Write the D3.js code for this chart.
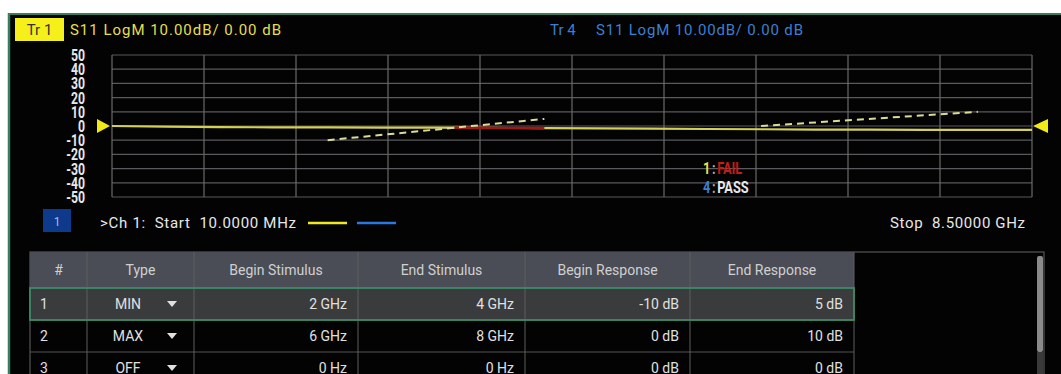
<!DOCTYPE html>
<html><head><meta charset="utf-8">
<script src="https://cdn.jsdelivr.net/npm/d3@7"></script>
<style>
html,body{margin:0;padding:0;background:#fff;}
svg{display:block;}
text{font-family:Roboto,"Noto Sans",sans-serif;}
</style></head>
<body><svg id="c" width="1061" height="374"></svg>
<script>
// ---- data ----
const traceFreqGHz = [0.01, 0.5, 1, 1.5, 2, 2.5, 3, 3.5, 4, 4.5, 5, 5.5, 6, 6.5, 7, 7.5, 8, 8.5];
const traceDb      = [0, -0.5, -0.8, -0.9, -1.0, -1.1, -1.2, -1.35, -1.5, -1.7, -1.9, -2.1, -2.3, -2.5, -2.6, -2.7, -2.7, -2.7];
const yTickLabels = [50, 40, 30, 20, 10, 0, -10, -20, -30, -40, -50];
const startGHz = 0.01, stopGHz = 8.5;
const limitNum = [1, 2, 3];
const limitType = ["MIN", "MAX", "OFF"];
const limitBeginStimGHz = [2, 6, 0];
const limitEndStimGHz = [4, 8, 0];
const limitBeginDb = [-10, 0, 0];
const limitEndDb = [5, 10, 0];
const tableHeaders = ["#", "Type", "Begin Stimulus", "End Stimulus", "Begin Response", "End Response"];

const svg = d3.select("#c");
// panel
svg.append("rect").attr("x",8).attr("y",13).attr("width",1061).attr("height",374).attr("fill","#030303");
svg.append("line").attr("x1",8).attr("x2",1061).attr("y1",14).attr("y2",14).attr("stroke","#3a7d5e").attr("stroke-width",2);
svg.append("line").attr("x1",9).attr("x2",9).attr("y1",13).attr("y2",374).attr("stroke","#3a7d5e").attr("stroke-width",2.5);

const x = d3.scaleLinear().domain([startGHz, stopGHz]).range([112, 1032]);
const y = d3.scaleLinear().domain([-50, 50]).range([197, 55]);

// grid
const g = svg.append("g");
const xDiv = d3.range(11).map(i => startGHz + i*(stopGHz-startGHz)/10);
g.selectAll(".hg").data(yTickLabels).join("line")
  .attr("x1",x(startGHz)).attr("x2",x(stopGHz)).attr("y1",d=>y(d)).attr("y2",d=>y(d))
  .attr("stroke","#5a5a5e").attr("stroke-width",1.2);
g.selectAll(".vg").data(xDiv).join("line")
  .attr("x1",d=>x(d)).attr("x2",d=>x(d)).attr("y1",y(50)).attr("y2",y(-50))
  .attr("stroke","#6a6a6a").attr("stroke-width",1.2);

// y labels
svg.selectAll(".yl").data(yTickLabels).join("text")
  .attr("transform",d=>`translate(85,${y(d)+6}) scale(0.72,1)`)
  .attr("text-anchor","end").attr("font-size",17).attr("font-weight","bold")
  .attr("fill","#e8e8e8").text(d=>d);

// header
svg.append("rect").attr("x",15).attr("y",18).attr("width",49).attr("height",23).attr("fill","#f5ef1a");
svg.append("text").attr("x",39.5).attr("y",35).attr("text-anchor","middle").attr("font-size",15).attr("fill","#333").text("Tr 1");
svg.append("text").attr("x",70).attr("y",35).attr("font-size",15).attr("fill","#e6df4a")
  .attr("textLength",211).attr("lengthAdjust","spacing").text("S11 LogM 10.00dB/ 0.00 dB");
svg.append("text").attr("x",550).attr("y",35).attr("font-size",15).attr("fill","#3c7fd0").attr("xml:space","preserve").text("Tr 4");
svg.append("text").attr("x",596).attr("y",35).attr("font-size",15).attr("fill","#3c7fd0")
  .attr("textLength",207).attr("lengthAdjust","spacing").text("S11 LogM 10.00dB/ 0.00 dB");

// trace
const line = d3.line().x(d=>x(d[0])).y(d=>y(d[1]));
const tracePts = traceFreqGHz.map((f,i)=>[f, traceDb[i]]);
svg.append("path").attr("d",line(tracePts)).attr("fill","none").attr("stroke","#d4d055").attr("stroke-width",2.2);

// fail segment (limit 1: MIN)
const interpTrace = f => {
  const i = d3.bisectRight(traceFreqGHz, f) - 1;
  const j = Math.min(i+1, traceFreqGHz.length-1);
  if (i===j) return traceDb[i];
  const t = (f-traceFreqGHz[i])/(traceFreqGHz[j]-traceFreqGHz[i]);
  return traceDb[i] + t*(traceDb[j]-traceDb[i]);
};
const lim0 = f => limitBeginDb[0] + (f-limitBeginStimGHz[0])/(limitEndStimGHz[0]-limitBeginStimGHz[0])*(limitEndDb[0]-limitBeginDb[0]);
const failPts = d3.range(limitBeginStimGHz[0], limitEndStimGHz[0]+0.0001, 0.01)
  .filter(f => interpTrace(f) < lim0(f)).map(f => [f, interpTrace(f)]);
if (failPts.length) svg.append("path").attr("d",line(failPts)).attr("fill","none").attr("stroke","#9a1a1a").attr("stroke-width",2.6);

// limit lines
[0,1].forEach(k=>{
  svg.append("path").attr("d",line([[limitBeginStimGHz[k],limitBeginDb[k]],[limitEndStimGHz[k],limitEndDb[k]]]))
    .attr("fill","none").attr("stroke","#dcdc9a").attr("stroke-width",2).attr("stroke-dasharray","7,5");
});

// reference markers
const y0 = y(0);
svg.append("path").attr("d",`M${x(startGHz)-15},${y0-7}L${x(startGHz)-15},${y0+7}L${x(startGHz)-2},${y0}Z`).attr("fill","#f2ea16");
svg.append("path").attr("d",`M${x(stopGHz)+16},${y0-7}L${x(stopGHz)+16},${y0+7}L${x(stopGHz)+1},${y0}Z`).attr("fill","#f2ea16");

// pass/fail
const pf = svg.append("g").attr("font-weight","bold").attr("font-size",16);
const t1 = pf.append("text").attr("transform","translate(703,174) scale(0.8,1)");
t1.append("tspan").attr("fill","#e6df4a").text("1");
t1.append("tspan").attr("fill","#aaa").attr("dx",2).text(":");
t1.append("tspan").attr("fill","#c21c1c").attr("dx",2).text("FAIL");
const t2 = pf.append("text").attr("transform","translate(703,193) scale(0.8,1)");
t2.append("tspan").attr("fill","#3c7fd0").text("4");
t2.append("tspan").attr("fill","#aaa").attr("dx",2).text(":");
t2.append("tspan").attr("fill","#e8e8e8").attr("dx",2).text("PASS");

// channel line
svg.append("rect").attr("x",43).attr("y",209).attr("width",28).attr("height",23).attr("fill","#0d3a8a");
svg.append("text").attr("x",57).attr("y",226).attr("text-anchor","middle").attr("font-size",12).attr("fill","#aabbee").text("1");
svg.append("text").attr("x",100).attr("y",228).attr("font-size",15).attr("fill","#e8e8e8").attr("xml:space","preserve")
  .attr("textLength",196).attr("lengthAdjust","spacing").text(">Ch 1:  Start  10.0000 MHz");
svg.append("line").attr("x1",308).attr("x2",347).attr("y1",223).attr("y2",223).attr("stroke","#f0e820").attr("stroke-width",2.5);
svg.append("line").attr("x1",357).attr("x2",396).attr("y1",223).attr("y2",223).attr("stroke","#2a78e0").attr("stroke-width",2.5);
svg.append("text").attr("x",890).attr("y",228).attr("font-size",15).attr("fill","#e8e8e8").attr("xml:space","preserve")
  .attr("textLength",135).attr("lengthAdjust","spacing").text("Stop  8.50000 GHz");

// table
const colX = [30, 87, 194, 358, 525, 690, 854];
const tb = svg.append("g");
tb.append("rect").attr("x",30).attr("y",252).attr("width",1014).attr("height",130).attr("fill","none").attr("stroke","#555").attr("stroke-width",1.2);
tb.append("rect").attr("x",30).attr("y",252).attr("width",colX[6]-30).attr("height",36).attr("fill","#4a4d55");
const rowTop = [288, 320, 352];
tb.append("rect").attr("x",30).attr("y",rowTop[0]).attr("width",colX[6]-30).attr("height",32).attr("fill","#3a3b3c");
rowTop.slice(1).concat([384]).forEach(yy=>{
  tb.append("line").attr("x1",30).attr("x2",colX[6]).attr("y1",yy).attr("y2",yy).attr("stroke","#555").attr("stroke-width",1);
});
colX.slice(1).forEach(cx=>{
  tb.append("line").attr("x1",cx).attr("x2",cx).attr("y1",252).attr("y2",384).attr("stroke","#5e5e5e").attr("stroke-width",1);
});
tb.append("rect").attr("x",30).attr("y",rowTop[0]).attr("width",colX[6]-30).attr("height",32).attr("fill","none").attr("stroke","#3d8a68").attr("stroke-width",1.8);
tableHeaders.forEach((h,i)=>{
  tb.append("text").attr("x",(colX[i]+colX[i+1])/2).attr("y",275).attr("text-anchor","middle")
    .attr("font-size",14).attr("fill","#d0d0d0").text(h);
});
const fmtHz = v => v===0 ? "0 Hz" : v + " GHz";
const fmtDb = v => v + " dB";
limitNum.forEach((n,r)=>{
  const by = rowTop[r] + 21;
  tb.append("text").attr("x",40).attr("y",by).attr("font-size",14).attr("fill","#e0e0e0").text(n);
  tb.append("text").attr("x",128).attr("y",by).attr("text-anchor","middle").attr("font-size",14).attr("fill","#e0e0e0").text(limitType[r]);
  tb.append("path").attr("d",`M167,${by-8}L177,${by-8}L172,${by-2}Z`).attr("fill","#e0e0e0");
  const vals = [fmtHz(limitBeginStimGHz[r]), fmtHz(limitEndStimGHz[r]), fmtDb(limitBeginDb[r]), fmtDb(limitEndDb[r])];
  vals.forEach((v,c)=>{
    tb.append("text").attr("x",colX[c+3]-11).attr("y",by).attr("text-anchor","end").attr("font-size",14).attr("fill","#e0e0e0").text(v);
  });
});
tb.append("rect").attr("x",1037).attr("y",256).attr("width",6).attr("height",96).attr("rx",2).attr("fill","#8a8a8a");
tb.append("rect").attr("x",1037).attr("y",352).attr("width",6).attr("height",30).attr("fill","#3a3a3a");
</script>
</body></html>
